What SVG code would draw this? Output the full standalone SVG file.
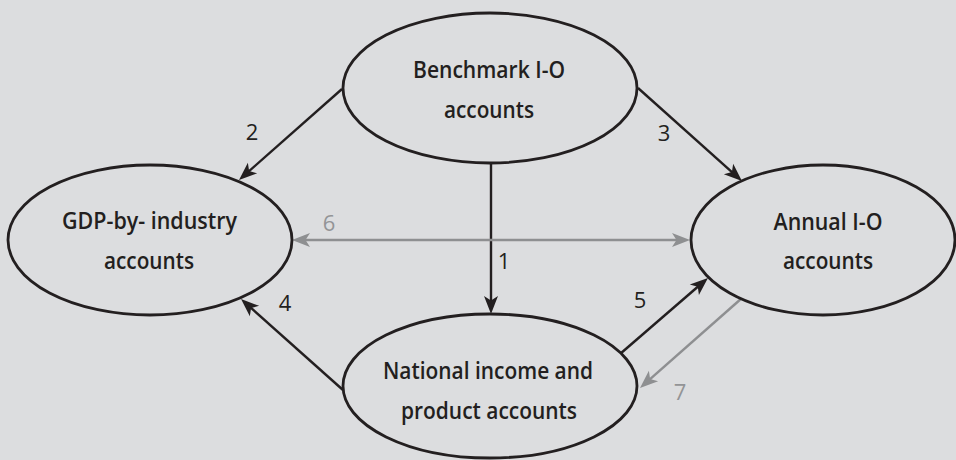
<svg xmlns="http://www.w3.org/2000/svg" width="956" height="460" viewBox="0 0 956 460">
<style>
.node{fill:#dcdddf;stroke:#231f20;stroke-width:2.8}
.nt{font-family:"Open Sans","Noto Sans","DejaVu Sans",sans-serif;font-weight:600;font-size:24px;fill:#231f20;text-anchor:middle}
.num{font-family:"Open Sans","Noto Sans","DejaVu Sans",sans-serif;font-weight:400;font-size:22px;text-anchor:middle}
.blk{stroke:#231f20;stroke-width:2.4;fill:none}
.gry{stroke:#8e8f91;stroke-width:2.4;fill:none}
</style>
<defs>
<marker id="ab" markerUnits="userSpaceOnUse" markerWidth="30" markerHeight="20" viewBox="-10 -10 30 20" refX="0" refY="0" orient="auto">
<path d="M10,0 L-8,-7 L-3.5,0 L-8,7 Z" fill="#231f20"/>
</marker>
<marker id="ag" markerUnits="userSpaceOnUse" markerWidth="30" markerHeight="20" viewBox="-10 -10 30 20" refX="0" refY="0" orient="auto-start-reverse">
<path d="M10,0 L-8,-7 L-3.5,0 L-8,7 Z" fill="#8e8f91"/>
</marker>
</defs>
<rect x="0" y="0" width="956" height="460" fill="#dcdddf"/>
<g id="connectors">
<line class="blk" x1="491" y1="163" x2="491" y2="304" marker-end="url(#ab)"/>
<line class="blk" x1="342" y1="89" x2="246.5" y2="173.4" marker-end="url(#ab)"/>
<line class="blk" x1="638" y1="88" x2="734.5" y2="174.3" marker-end="url(#ab)"/>
<line class="blk" x1="343" y1="390" x2="248.5" y2="305.7" marker-end="url(#ab)"/>
<line class="blk" x1="620" y1="354" x2="700.4" y2="284.5" marker-end="url(#ab)"/>
<line class="gry" x1="742" y1="298" x2="647.5" y2="381.4" marker-end="url(#ag)"/>
<line class="gry" x1="302" y1="240" x2="680" y2="240" marker-start="url(#ag)" marker-end="url(#ag)"/>
<text class="num" x="504" y="269" fill="#231f20">1</text>
<text class="num" x="252" y="140" fill="#231f20">2</text>
<text class="num" x="664" y="141" fill="#231f20">3</text>
<text class="num" x="285" y="311" fill="#231f20">4</text>
<text class="num" x="640" y="308" fill="#231f20">5</text>
<text class="num" x="329" y="231" fill="#939496">6</text>
<text class="num" x="680" y="400" fill="#939496">7</text>
</g>
<g id="benchmark">
<ellipse class="node" cx="490" cy="88" rx="147" ry="75"/>
<text class="nt" x="489" y="78" textLength="152" lengthAdjust="spacingAndGlyphs">Benchmark I-O</text>
<text class="nt" x="489" y="118" textLength="90" lengthAdjust="spacingAndGlyphs">accounts</text>
</g>
<g id="gdp">
<ellipse class="node" cx="150" cy="240" rx="142" ry="75"/>
<text class="nt" x="149.5" y="229" textLength="175" lengthAdjust="spacingAndGlyphs">GDP-by- industry</text>
<text class="nt" x="149" y="269" textLength="90" lengthAdjust="spacingAndGlyphs">accounts</text>
</g>
<g id="annual">
<ellipse class="node" cx="823" cy="240" rx="132" ry="75"/>
<text class="nt" x="828" y="230" textLength="109" lengthAdjust="spacingAndGlyphs">Annual I-O</text>
<text class="nt" x="828" y="269" textLength="90" lengthAdjust="spacingAndGlyphs">accounts</text>
</g>
<g id="nipa">
<ellipse class="node" cx="490" cy="386" rx="147" ry="72"/>
<text class="nt" x="488" y="379" textLength="210" lengthAdjust="spacingAndGlyphs">National income and</text>
<text class="nt" x="489" y="419" textLength="176" lengthAdjust="spacingAndGlyphs">product accounts</text>
</g>
</svg>
